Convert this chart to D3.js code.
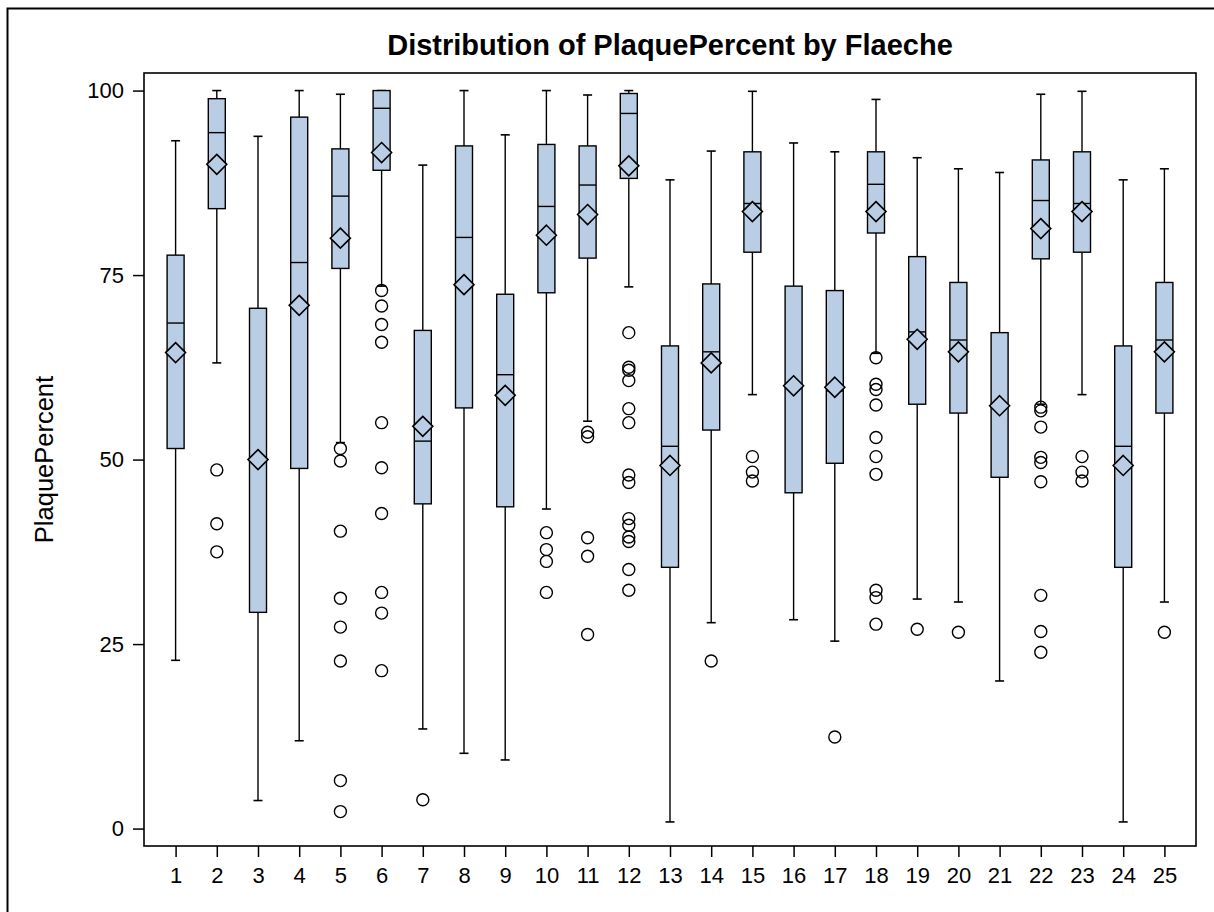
<!DOCTYPE html>
<html><head><meta charset="utf-8">
<script src="https://cdn.jsdelivr.net/npm/d3@7"></script>
<style>body{margin:0;background:#fff;} svg{display:block;}</style>
</head><body>
<svg id="chart" width="1214" height="912"></svg>
<script>
const categories = ["1","2","3","4","5","6","7","8","9","10","11","12","13","14","15","16","17","18","19","20","21","22","23","24","25"];
const whiskerLow  = [22.8,63.1,3.8,11.9,52.3,73.5,13.5,10.2,9.3,43.3,55.2,73.4,0.9,27.9,58.8,28.3,25.4,64.4,31.1,30.7,20.0,57.5,58.8,0.9,30.7];
const q1          = [51.5,84.0,29.3,48.8,75.9,89.2,44.0,57.0,43.6,72.6,77.3,88.1,35.4,54.0,78.1,45.5,49.5,80.7,57.5,56.3,47.6,77.2,78.1,35.4,56.3];
const median      = [68.5,94.3,50.2,76.7,85.7,97.6,52.5,80.1,61.5,84.3,87.2,96.9,51.8,64.6,84.7,60.0,59.3,87.3,67.3,66.2,57.4,85.1,84.7,51.8,66.2];
const q3          = [77.7,98.9,70.5,96.4,92.1,100,67.5,92.5,72.4,92.7,92.5,99.6,65.4,73.8,91.7,73.5,72.9,91.7,77.5,74.0,67.2,90.6,91.7,65.4,74.0];
const whiskerHigh = [93.2,100,93.8,100,99.5,100,89.9,100,94.0,100,99.4,100,87.9,91.8,99.9,92.9,91.7,98.8,90.9,89.4,88.9,99.5,99.9,87.9,89.4];
const means       = [64.5,90.0,50.0,70.9,80.0,91.6,54.5,73.7,58.7,80.4,83.2,89.8,49.2,63.1,83.6,60.0,59.8,83.6,66.3,64.6,57.3,81.3,83.6,49.2,64.6];
const outliers = [
  [],
  [48.6,41.3,37.5],
  [],
  [],
  [51.5,49.8,40.3,31.2,27.3,22.7,6.5,2.3],
  [72.9,70.8,68.3,65.9,55.0,48.9,42.7,32.0,29.2,21.4],
  [3.9],
  [],
  [],
  [40.1,37.8,36.2,32.0],
  [53.7,53.1,39.4,36.9,26.3],
  [67.2,62.5,62.1,60.7,56.9,55.0,47.9,46.9,42.0,41.1,39.5,38.9,35.1,32.3],
  [],
  [22.7],
  [50.4,48.3,47.1],
  [],
  [12.4],
  [63.8,60.2,59.5,57.4,53.0,50.4,48.0,32.3,31.3,27.7],
  [27.0],
  [26.6],
  [],
  [57.1,56.6,54.4,50.3,49.6,47.0,31.6,26.7,23.9],
  [50.4,48.3,47.1],
  [],
  [26.6]
];
const yTicks = [0,25,50,75,100];
const titleText = "Distribution of PlaquePercent by Flaeche";
const yLabel = "PlaquePercent";

const data = categories.map((c,i)=>({cat:c, lo:whiskerLow[i], q1:q1[i], med:median[i], q3:q3[i], hi:whiskerHigh[i], mean:means[i], out:outliers[i]}));

const svg = d3.select("#chart");
const font = "'Liberation Sans', Arial, Helvetica, sans-serif";
const L = 144, R = 1196, T = 73, B = 846;
const fill = "#b9cde5";

// outer frame
svg.append("rect").attr("x",7.5).attr("y",8.5).attr("width",1240).attr("height",940)
  .attr("fill","none").attr("stroke","#000").attr("stroke-width",2);

const x = d3.scalePoint().domain(categories).range([L,R]).padding(0.767);
const y = d3.scaleLinear().domain([-2.36,102.38]).range([B,T]);

// title
svg.append("text").attr("x",(L+R)/2).attr("y",55).attr("text-anchor","middle")
  .attr("font-family",font).attr("font-weight","bold").attr("font-size",29).text(titleText);

// y label
svg.append("text").attr("transform",`translate(53,${(T+B)/2}) rotate(-90)`).attr("text-anchor","middle")
  .attr("font-family",font).attr("font-size",25.5).text(yLabel);

// axes
const yAxis = svg.append("g").attr("transform",`translate(${L},0)`)
  .call(d3.axisLeft(y).tickValues(yTicks).tickSize(11).tickPadding(9).tickFormat(d3.format("d")));
yAxis.select(".domain").remove();
yAxis.selectAll("line").attr("stroke","#000").attr("stroke-width",1.5);
yAxis.selectAll("text").attr("font-family",font).attr("font-size",22).attr("fill","#000");

const xAxis = svg.append("g").attr("transform",`translate(0,${B})`)
  .call(d3.axisBottom(x).tickSize(11).tickPadding(10));
xAxis.select(".domain").remove();
xAxis.selectAll("line").attr("stroke","#000").attr("stroke-width",1.5);
xAxis.selectAll("text").attr("font-family",font).attr("font-size",22).attr("fill","#000");

const bw = 17, cw = 9, dr = 10, cr = 6;
const g = svg.append("g");
const boxes = g.selectAll("g.box").data(data).join("g").attr("class","box");

boxes.append("line").attr("x1",d=>x(d.cat)).attr("x2",d=>x(d.cat))
  .attr("y1",d=>y(d.hi)).attr("y2",d=>y(d.q3)).attr("stroke","#000").attr("stroke-width",1.4);
boxes.append("line").attr("x1",d=>x(d.cat)).attr("x2",d=>x(d.cat))
  .attr("y1",d=>y(d.q1)).attr("y2",d=>y(d.lo)).attr("stroke","#000").attr("stroke-width",1.4);
boxes.append("line").attr("x1",d=>x(d.cat)-cw/2).attr("x2",d=>x(d.cat)+cw/2)
  .attr("y1",d=>y(d.hi)).attr("y2",d=>y(d.hi)).attr("stroke","#000").attr("stroke-width",1.6);
boxes.append("line").attr("x1",d=>x(d.cat)-cw/2).attr("x2",d=>x(d.cat)+cw/2)
  .attr("y1",d=>y(d.lo)).attr("y2",d=>y(d.lo)).attr("stroke","#000").attr("stroke-width",1.6);
boxes.append("rect").attr("x",d=>x(d.cat)-bw/2).attr("width",bw)
  .attr("y",d=>y(d.q3)).attr("height",d=>y(d.q1)-y(d.q3))
  .attr("fill",fill).attr("stroke","#000").attr("stroke-width",1.4);
boxes.append("line").attr("x1",d=>x(d.cat)-bw/2).attr("x2",d=>x(d.cat)+bw/2)
  .attr("y1",d=>y(d.med)).attr("y2",d=>y(d.med)).attr("stroke","#000").attr("stroke-width",1.4);
boxes.append("path").attr("d",d=>{const cx=x(d.cat), cy=y(d.mean);
    return `M${cx},${cy-dr}L${cx+dr},${cy}L${cx},${cy+dr}L${cx-dr},${cy}Z`;})
  .attr("fill",fill).attr("stroke","#000").attr("stroke-width",1.6);
boxes.each(function(d){
  d3.select(this).selectAll("circle").data(d.out).join("circle")
    .attr("cx",x(d.cat)).attr("cy",v=>y(v)).attr("r",cr)
    .attr("fill","none").attr("stroke","#000").attr("stroke-width",1.4);
});

// plot frame
svg.append("rect").attr("x",L).attr("y",T).attr("width",R-L).attr("height",B-T)
  .attr("fill","none").attr("stroke","#000").attr("stroke-width",1.6);
</script>
</body></html>
